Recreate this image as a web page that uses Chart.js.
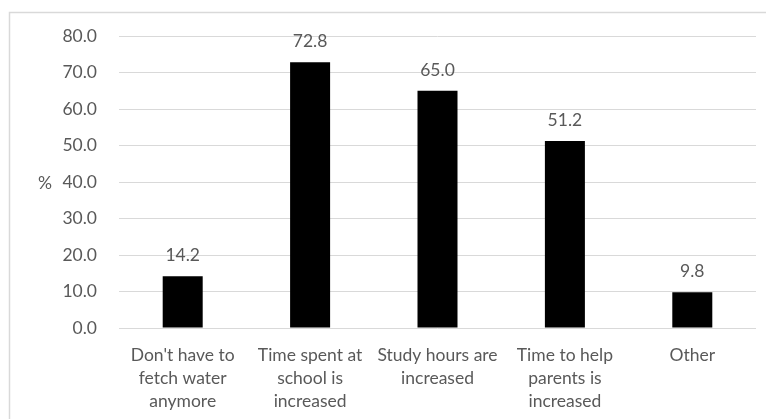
<!DOCTYPE html>
<html>
<head>
<meta charset="utf-8">
<script src="https://cdn.jsdelivr.net/npm/chart.js@4.4.1/dist/chart.umd.min.js"></script>
<style>
  html, body { margin: 0; padding: 0; background: #fff; }
  #wrap { position: relative; width: 766px; height: 419px; }
</style>
</head>
<body>
<div id="wrap"><canvas id="c" width="766" height="419"></canvas></div>
<script>
// Reasons given, share of respondents (%)
const categories = [
  ["Don't have to", "fetch water", "anymore"],
  ["Time spent at", "school is", "increased"],
  ["Study hours are", "increased"],
  ["Time to help", "parents is", "increased"],
  ["Other"]
];
const percentages = [14.2, 72.8, 65.0, 51.2, 9.8];
const yTicks = [0, 10, 20, 30, 40, 50, 60, 70, 80];
const yTitle = "%";

const FONT = "Lato, 'Open Sans', sans-serif";
const TEXT = "#595959";
const GRID = "#d9d9d9";
const FS = 17.5;

// Frame around the chart and the horizontal "%" axis title
const decor = {
  id: "decor",
  beforeDraw(chart) {
    const ctx = chart.ctx;
    ctx.save();
    ctx.strokeStyle = GRID;
    ctx.lineWidth = 1.5;
    ctx.beginPath();
    ctx.moveTo(9.5, chart.height);
    ctx.lineTo(9.5, 12.5);
    ctx.lineTo(chart.width, 12.5);
    ctx.stroke();
    ctx.restore();
  },
  afterDraw(chart) {
    const ctx = chart.ctx;
    const y = chart.scales.y;
    ctx.save();
    ctx.fillStyle = TEXT;
    ctx.font = FS + "px " + FONT;
    ctx.textAlign = "center";
    ctx.textBaseline = "middle";
    ctx.fillText(yTitle, 45, (y.top + y.bottom) / 2 + 1);
    ctx.restore();
  }
};

// Value labels above each bar
const valueLabels = {
  id: "valueLabels",
  afterDatasetsDraw(chart) {
    const ctx = chart.ctx;
    const meta = chart.getDatasetMeta(0);
    const data = chart.data.datasets[0].data;
    ctx.save();
    ctx.fillStyle = TEXT;
    ctx.font = FS + "px " + FONT;
    ctx.textAlign = "center";
    ctx.textBaseline = "alphabetic";
    meta.data.forEach((bar, i) => {
      ctx.fillText(data[i].toFixed(1), bar.x, bar.y - 15);
    });
    ctx.restore();
  }
};

new Chart(document.getElementById("c"), {
  type: "bar",
  data: {
    labels: categories,
    datasets: [{
      data: percentages,
      backgroundColor: "#000000",
      borderWidth: 0,
      categoryPercentage: 1,
      barPercentage: 0.314
    }]
  },
  options: {
    responsive: false,
    animation: false,
    events: [],
    layout: { padding: { top: 36, right: 10, left: 0, bottom: 0 } },
    plugins: {
      legend: { display: false },
      tooltip: { enabled: false }
    },
    scales: {
      x: {
        grid: { display: false },
        border: { display: false },
        ticks: {
          color: TEXT,
          font: { family: FONT, size: FS, lineHeight: 1.3 },
          padding: 8,
          maxRotation: 0,
          autoSkip: false
        },
        afterFit(scale) { scale.height = 91; }
      },
      y: {
        min: 0,
        max: 80,
        afterBuildTicks(scale) { scale.ticks = yTicks.map(v => ({ value: v })); },
        grid: { color: GRID, lineWidth: 1, drawTicks: false },
        border: { display: false },
        ticks: {
          color: TEXT,
          font: { family: FONT, size: FS },
          padding: 22,
          callback: v => Number(v).toFixed(1)
        },
        afterFit(scale) { scale.width = 119; }
      }
    }
  },
  plugins: [decor, valueLabels]
});
</script>
</body>
</html>
